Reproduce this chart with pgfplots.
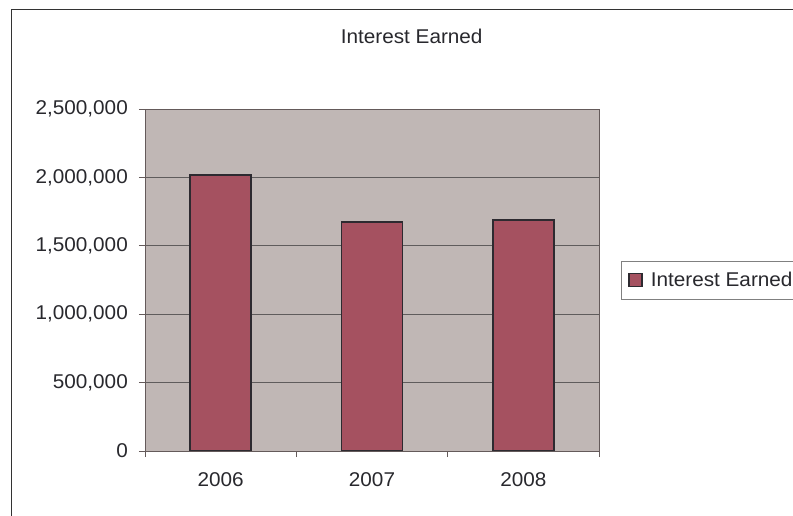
\documentclass[border=0pt]{standalone}
\usepackage{fontspec}
\setmainfont{Liberation Sans}[FakeStretch=1.04]
\usepackage{pgfplots}
\pgfplotsset{compat=1.18}
\definecolor{barfill}{RGB}{165,81,96}
\definecolor{bardraw}{RGB}{45,42,48}
\definecolor{plotbg}{RGB}{192,183,181}
\definecolor{gridc}{RGB}{95,92,92}
\definecolor{axisc}{RGB}{100,90,90}
\definecolor{textc}{RGB}{40,40,45}
\newcommand\cf{\fontsize{20}{24}\selectfont}
\begin{document}
\begin{tikzpicture}
\begin{axis}[
  at={(145bp,65bp)}, anchor=south west,
  width=454bp, height=342bp, scale only axis,
  xmin=-0.5, xmax=2.5, ymin=0, ymax=2500000,
  axis background/.style={fill=plotbg},
  axis line style={axisc, line width=0.8bp},
  ybar, bar width=0.403,
  tick align=outside, major tick length=6bp,
  xtick pos=bottom, ytick pos=left,
  tick style={axisc, line width=0.8bp},
  xtick={-0.5,0.5,1.5,2.5}, xticklabels={},
  extra x ticks={0,1,2}, extra x tick labels={2006,2007,2008},
  extra x tick style={major tick length=0pt},
  ytick={0,500000,1000000,1500000,2000000,2500000},
  scaled y ticks=false,
  /pgf/number format/fixed,
  /pgf/number format/1000 sep={,},
  /pgf/number format/assume math mode=true,
  yticklabel style={anchor=east, inner sep=0pt, xshift=-11bp, font=\cf, text=textc},
  xticklabel style={anchor=north, inner sep=0pt, yshift=-21bp, font=\cf, text=textc},
  ymajorgrids=true, xmajorgrids=false,
  major grid style={gridc, line width=0.8bp},
  legend style={at={(1.0485,0.5)}, anchor=west, draw=gray, line width=0.6bp, fill=white,
    inner xsep=7bp, inner ysep=11bp, font=\cf, text=textc, nodes={inner sep=0pt},
    /tikz/every odd column/.append style={column sep=8bp}},
  legend image code/.code={\draw[fill=barfill, draw=bardraw, line width=1.5bp] (0bp,-6.5bp) rectangle (13bp,6.5bp);},
]
\addplot[fill=barfill, draw=bardraw, line width=1.8bp] coordinates {(0,2015000) (1,1675000) (2,1688000)};
\addlegendentry{Interest Earned}
\end{axis}
\node[font=\cf, text=textc] at (411.7bp,480bp) {Interest Earned};
\draw[color=gray!40!black, line width=0.8bp] (11bp,-20bp) rectangle (830bp,507bp);
\pgfresetboundingbox
\path[use as bounding box] (0,0) rectangle (793bp,516bp);
\end{tikzpicture}
\end{document}
